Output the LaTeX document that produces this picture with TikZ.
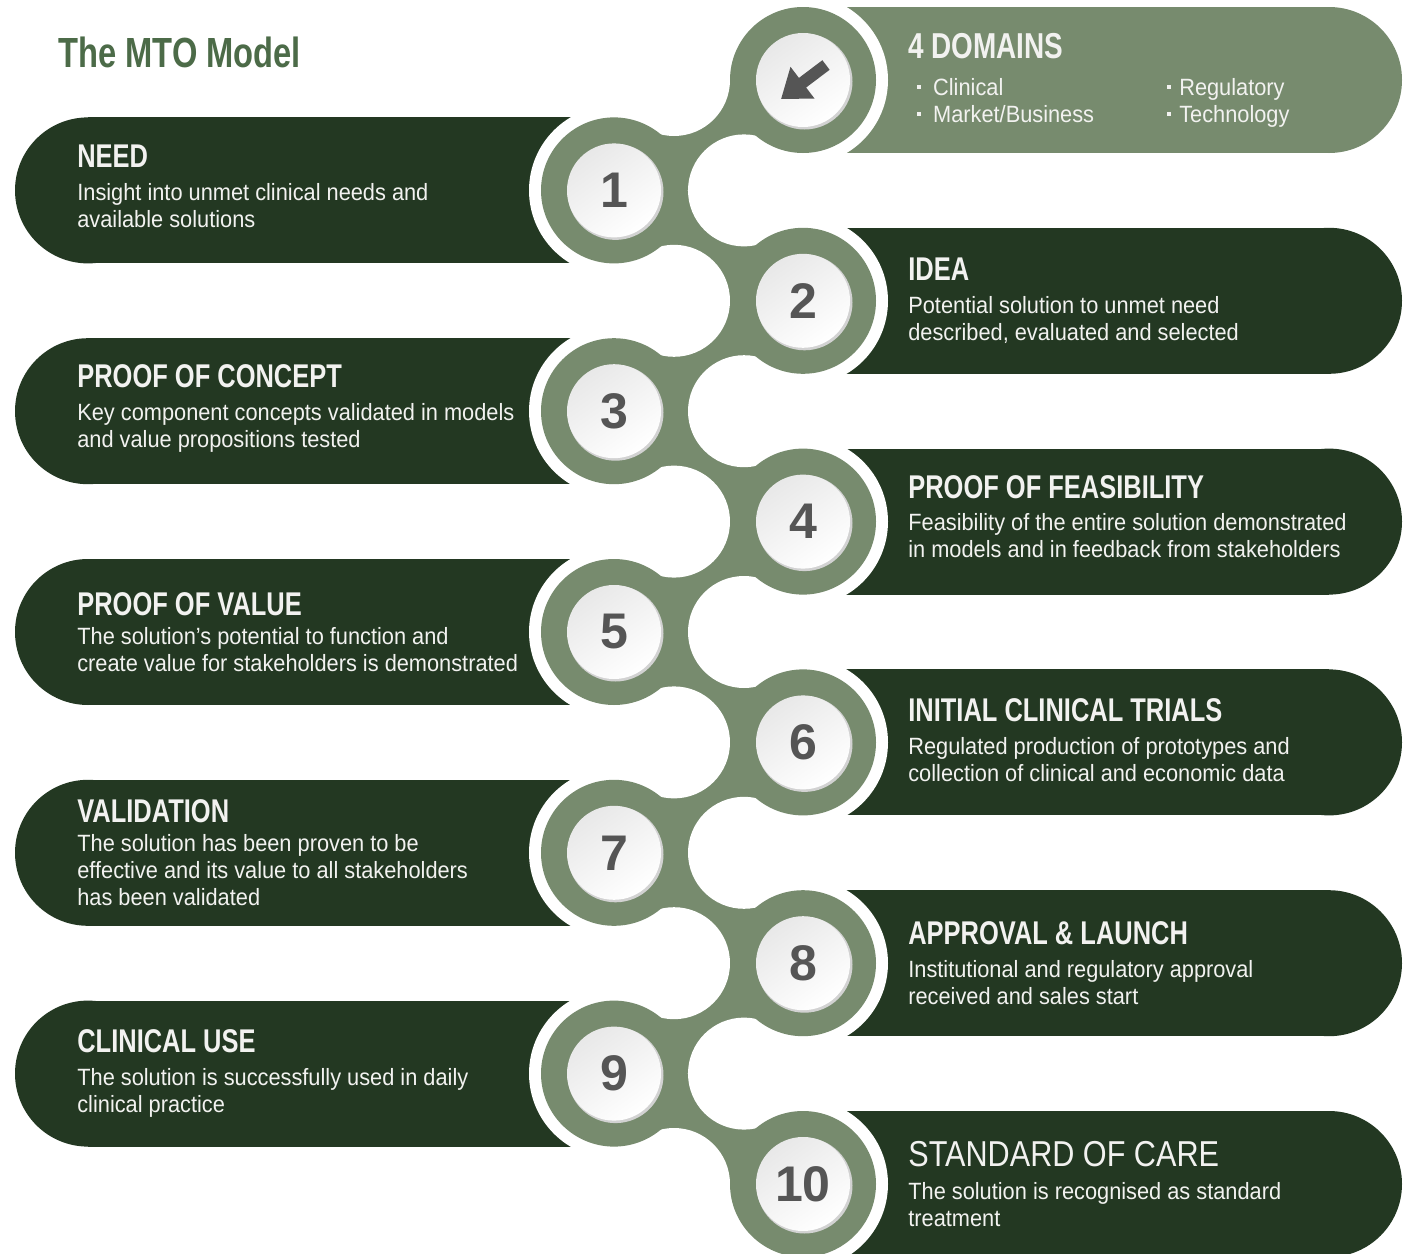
\documentclass[tikz,border=0pt]{standalone}
\usepackage{fontspec}
\setmainfont[FakeStretch=0.925]{Liberation Sans}
\newfontfamily\headfont[FakeStretch=0.775]{Liberation Sans}
\newfontfamily\carefont[FakeStretch=0.85]{Liberation Sans}
\newfontfamily\numfont{Liberation Sans}
\usetikzlibrary{arrows.meta}

\definecolor{chaingreen}{HTML}{778B6E}
\definecolor{bargreen}{HTML}{233822}
\definecolor{titlegreen}{HTML}{4C6B48}
\definecolor{numgray}{HTML}{555555}
\definecolor{textwhite}{HTML}{F2F2F0}

\newcommand{\bodysize}{\fontsize{13.4pt}{15.3pt}\selectfont}
\newcommand{\headsize}{\headfont\bfseries\fontsize{18.7pt}{22pt}\selectfont}
\newcommand{\dotitem}[1]{\makebox[#1][l]{\raisebox{3.6pt}{\rule{2.2pt}{2.2pt}}}}

\begin{document}
\begin{tikzpicture}[
          x=0.02cm, y=-0.02cm,
          stepbar/.style = {fill=bargreen},
          domainbar/.style = {fill=chaingreen},
          face/.style = {top color=gray!18, bottom color=white, shading angle=35},
          num/.style = {text=numgray, inner sep=0pt, font=\numfont\bfseries\fontsize{28.5pt}{30pt}\selectfont},
          steptext/.style = {anchor=west, align=left, inner sep=0pt, text=textwhite, font=\bodysize},
          listitem/.style = {anchor=base west, inner sep=0pt, text=textwhite, font=\bodysize}
        ]

        \useasboundingbox (0,0) rectangle (1411,1254);
        \fill[white] (0,0) rectangle (1411,1254);

        % bars behind the chain
        \fill[domainbar] (803,7) rectangle (1329,153);
        \fill[domainbar] (1329,80) circle (73);
        \foreach \y in {190.4, 411.2, 632, 852.8, 1073.6} {
          \fill[stepbar] (88,\y-73) rectangle (614,\y+73);
          \fill[stepbar] (88,\y) circle (73);
        }
        \foreach \y in {300.8, 521.6, 742.4, 963.2, 1184} {
          \fill[stepbar] (803,\y-73) rectangle (1329,\y+73);
          \fill[stepbar] (1329,\y) circle (73);
        }

        % white rims round the circles
        \foreach \x/\y in {803/80, 614/190.4, 803/300.8, 614/411.2, 803/521.6, 614/632,
                           803/742.4, 614/852.8, 803/963.2, 614/1073.6, 803/1184}
          \fill[white] (\x,\y) circle (85);

        % links between the circles
        \foreach \xa/\ca/\ya/\xb/\cb/\yb in {803/674/80/614/744/190.4, 614/744/190.4/803/674/300.8,
                 803/674/300.8/614/744/411.2, 614/744/411.2/803/674/521.6, 803/674/521.6/614/744/632,
                 614/744/632/803/674/742.4, 803/674/742.4/614/744/852.8, 614/744/852.8/803/674/963.2,
                 803/674/963.2/614/744/1073.6, 614/744/1073.6/803/674/1184}
          \fill[chaingreen] (\xa,\ya) -- (\ca,\ya) -- (\xb,\yb) -- (\cb,\yb) -- cycle;
        \foreach \c/\y in {674/80, 744/190.4, 674/300.8, 744/411.2, 674/521.6, 744/632,
                           674/742.4, 744/852.8, 674/963.2, 744/1073.6, 674/1184}
          \fill[white] (\c,\y) circle (56);

        % rings and number faces
        \foreach \x/\y/\n in {803/80/, 614/190.4/1, 803/300.8/2, 614/411.2/3, 803/521.6/4, 614/632/5,
                              803/742.4/6, 614/852.8/7, 803/963.2/8, 614/1073.6/9, 803/1184/10} {
          \fill[chaingreen] (\x,\y) circle (73);
          \fill[gray!35] (\x+1.5,\y+1.5) circle (48);
          \shade[face] (\x,\y) circle (47);
          \node[num] (num\n) at (\x,\y) {\n};
        }

        \coordinate (domtail) at (826,65);
        \coordinate (domtip) at (781,99);
        \draw[numgray, line width=0.24cm, -{Triangle[length=0.54cm, width=0.76cm]}] (domtail) -- (domtip);

        \node[anchor=base west, inner sep=0pt, text=titlegreen,
              font=\headfont\bfseries\fontsize{24pt}{28pt}\selectfont] (title) at (58,67) {The MTO Model};

        % four domains
        \node[anchor=base west, inner sep=0pt, text=textwhite,
              font=\headfont\bfseries\fontsize{20.5pt}{22pt}\selectfont] (domains) at (908,58) {4 DOMAINS};
        \node[listitem] (clinical) at (917,95) {\dotitem{9pt}Clinical};
        \node[listitem] (market) at (917,122) {\dotitem{9pt}Market/Business};
        \node[listitem] (regulatory) at (1167,95) {\dotitem{6.8pt}Regulatory};
        \node[listitem] (technology) at (1167,122) {\dotitem{6.8pt}Technology};

        % steps on the left
        \node[steptext] (need) at (77,186.4) {{\headsize NEED}\\[3.4pt]
          Insight into unmet clinical needs and\\ available solutions};
        \node[steptext] (concept) at (77,408.2) {{\headsize PROOF OF CONCEPT}\\[3.4pt]
          Key component concepts validated in models\\ and value propositions tested};
        \node[steptext] (value) at (77,632) {{\headsize PROOF OF VALUE}\\[1pt]
          The solution's potential to function and\\ create value for stakeholders is demonstrated};
        \node[steptext] (validation) at (77,852.8) {{\headsize VALIDATION}\\[1pt]
          The solution has been proven to be\\ effective and its value to all stakeholders\\ has been validated};
        \node[steptext] (clinicaluse) at (77,1073.6) {{\headsize CLINICAL USE}\\[3.4pt]
          The solution is successfully used in daily\\ clinical practice};

        % steps on the right
        \node[steptext] (idea) at (908,300.8) {{\headsize IDEA}\\[3.4pt]
          Potential solution to unmet need\\ described, evaluated and selected};
        \node[steptext] (feasibility) at (908,516.6) {{\headsize PROOF OF FEASIBILITY}\\[3.4pt]
          Feasibility of the entire solution demonstrated\\ in models and in feedback from stakeholders};
        \node[steptext] (trials) at (908,740.4) {{\headsize INITIAL CLINICAL TRIALS}\\[3.4pt]
          Regulated production of prototypes and\\ collection of clinical and economic data};
        \node[steptext] (launch) at (908,963.2) {{\headsize APPROVAL \& LAUNCH}\\[3.4pt]
          Institutional and regulatory approval\\ received and sales start};
        \node[steptext] (care) at (908,1184) {{\carefont\fontsize{20.5pt}{22pt}\selectfont STANDARD OF CARE}\\[3.4pt]
          The solution is recognised as standard\\ treatment};
      \end{tikzpicture}
\end{document}
